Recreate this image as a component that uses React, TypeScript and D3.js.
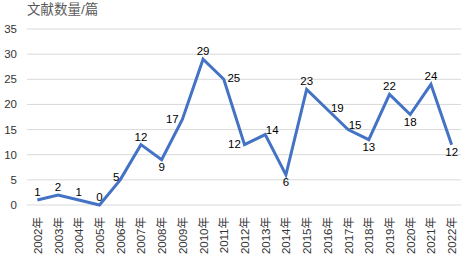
import React from "react";
import * as d3 from "d3";

const years = ["2002","2003","2004","2005","2006","2007","2008","2009","2010","2011","2012","2013","2014","2015","2016","2017","2018","2019","2020","2021","2022"];
const counts = [1,2,1,0,5,12,9,17,29,25,12,14,6,23,19,15,13,22,18,24,12];
const labelPlace = ["t","t","t","t","lt","t","b","l","t","r","l","rt","b","t","r","rt","b","t","b","t","b"];
const yTicks = [0,5,10,15,20,25,30,35];
const yTitle = "文献数量/篇";

const W = 462, H = 257;
const FONT = "'Liberation Sans', 'Noto Sans CJK SC', sans-serif";

const offsets: Record<string, [number, number]> = {
  t: [0, -8],
  b: [0, 7],
  l: [-10, -1],
  lt: [-4, -3],
  r: [10, -1],
  rt: [7, -5],
};

export default function App() {
  const x = d3.scalePoint<string>().domain(years).range([27, 462]).padding(0.5);
  const y = d3.scaleLinear().domain([0, 35]).range([205, 29]);
  const line = d3.line<number>().x((_, i) => x(years[i])!).y((d) => y(d));

  return (
    <svg width={W} height={H} style={{ position: "absolute", left: 0, top: 0, background: "#fff" }}>
      <text x={27} y={14} fontSize={13.5} fill="#595959" fontFamily={FONT}>{yTitle}</text>
      {yTicks.map((t) => (
        <g key={t}>
          <line x1={27} x2={461} y1={y(t)} y2={y(t)} stroke="#d9d9d9" strokeWidth={1} />
          <text x={17} y={y(t)} dy="0.35em" textAnchor="end" fontSize={11.5} fill="#333" fontFamily={FONT}>{t}</text>
        </g>
      ))}
      {years.map((yr) => (
        <text
          key={yr}
          transform={`translate(${x(yr)! + 4.5},${217}) rotate(-90)`}
          textAnchor="end"
          fontSize={11.5}
          fill="#333"
          fontFamily={FONT}
        >{yr}年</text>
      ))}
      <path d={line(counts) || ""} fill="none" stroke="#4472c4" strokeWidth={3} strokeLinejoin="miter" />
      {counts.map((v, i) => {
        const [dx, dy] = offsets[labelPlace[i]];
        return (
          <text
            key={i}
            x={x(years[i])! + dx}
            y={y(v) + dy}
            dy="0.35em"
            textAnchor="middle"
            fontSize={11.5}
            fill="#000"
            fontFamily={FONT}
          >{v}</text>
        );
      })}
    </svg>
  );
}
